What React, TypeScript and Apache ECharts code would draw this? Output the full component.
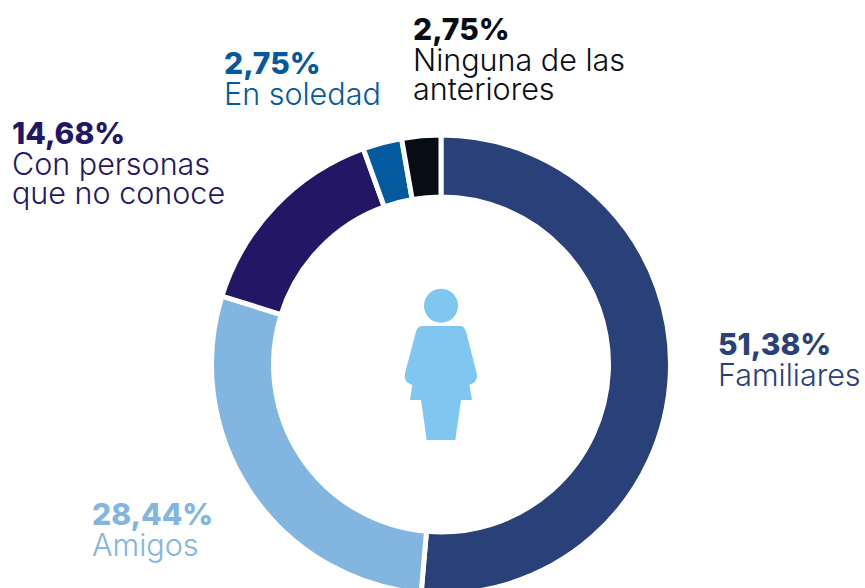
import React, { useEffect, useRef } from "react";
import * as echarts from "echarts";

const names = ["Familiares", "Amigos", "Con personas\nque no conoce", "En soledad", "Ninguna de las\nanteriores"];
const values = [51.38, 28.44, 14.68, 2.75, 2.75];
const colors = ["#2a4078", "#82b5e0", "#231765", "#045a9e", "#080d15"];
const labelSpots: [number, number][] = [[718, 328], [92, 498], [12, 117], [224, 47], [413, 13]];

const figure =
  "M422.7 326L460 326Q464.5 326 466 331.7L476.7 373.3Q478.5 382 469.3 385L472 400L461 400L455.3 440L426.7 440L421 400L410 400L412.3 385Q403 382 405 373.3L416 331.7Q417.5 326 422.7 326Z";
echarts.graphic.registerShape("womanBody", echarts.graphic.extendPath(figure, {}));

const fontFamily = "Inter, sans-serif";

export default function App() {
  const ref = useRef<HTMLDivElement>(null);
  useEffect(() => {
    document.body.style.margin = "0";
    const chart = echarts.init(ref.current!, undefined, { renderer: "svg" });
    const rich: Record<string, any> = {};
    colors.forEach((c, i) => {
      rich["b" + i] = { fontFamily, fontSize: 30, fontWeight: 800, color: c, lineHeight: 32 };
      rich["n" + i] = { fontFamily, fontSize: 30.5, fontWeight: 300, color: c, lineHeight: 29 };
    });
    chart.setOption({
      animation: false,
      backgroundColor: "#ffffff",
      series: [
        {
          type: "pie",
          center: [441, 364.5],
          radius: [167.5, 229.5],
          startAngle: 90,
          clockwise: true,
          avoidLabelOverlap: false,
          silent: true,
          itemStyle: { borderColor: "#ffffff", borderWidth: 5 },
          labelLine: { show: false },
          label: {
            show: true,
            position: "outside",
            rich,
            formatter: (p: any) => {
              const i = p.dataIndex;
              const pct = values[i].toFixed(2).replace(".", ",") + "%";
              const lines = names[i].split("\n").map((l) => `{n${i}|${l}}`).join("\n");
              return `{b${i}|${pct}}\n${lines}`;
            },
          },
          labelLayout: (p: any) => ({
            x: labelSpots[p.dataIndex][0],
            y: labelSpots[p.dataIndex][1],
            align: "left",
            verticalAlign: "top",
          }),
          data: names.map((name, i) => ({ name, value: values[i], itemStyle: { color: colors[i] } })),
        },
      ],
      graphic: [
        { type: "circle", shape: { cx: 441, cy: 305.7, r: 17 }, style: { fill: "#7fc6f0" } },
        { type: "womanBody", x: 0, y: 0, style: { fill: "#7fc6f0" } },
      ],
    });
    return () => chart.dispose();
  }, []);
  return <div ref={ref} style={{ width: 865, height: 588 }} />;
}
